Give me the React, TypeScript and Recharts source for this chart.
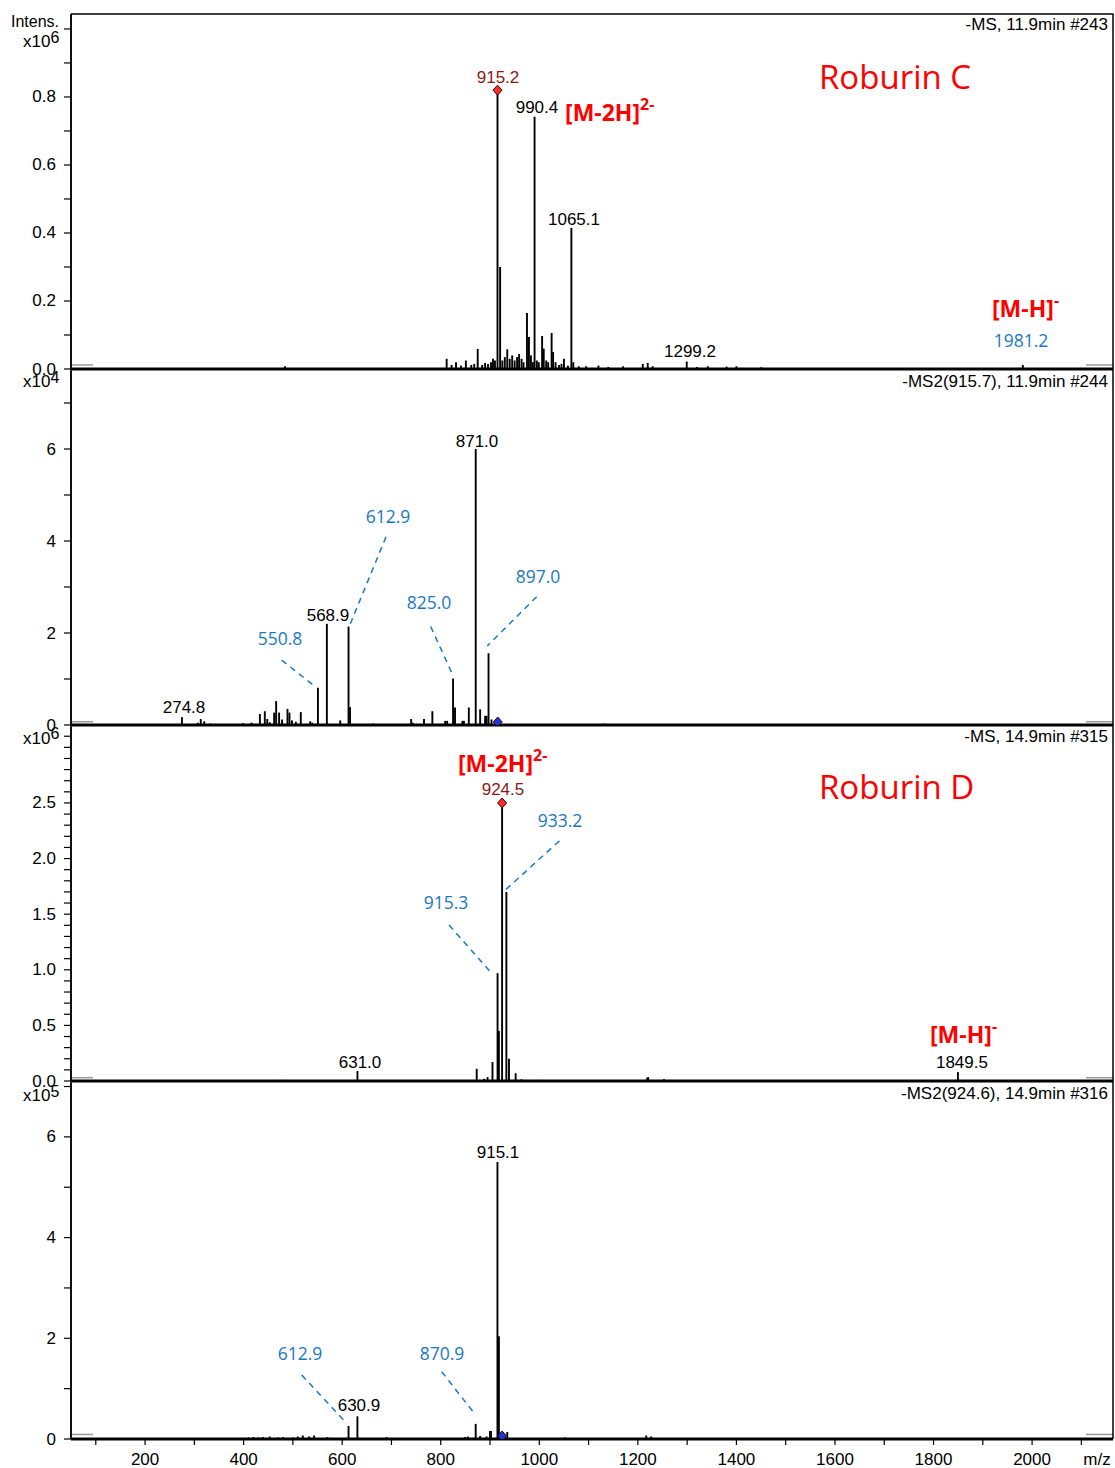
import React from 'react';
import { ComposedChart, XAxis, YAxis, Scatter, ReferenceLine, ReferenceDot } from 'recharts';

// ---------- shared axis ----------
const X_MIN = 49.7;
const X_MAX = 2164.2;
const xTicks = [100, 200, 300, 400, 500, 600, 700, 800, 900, 1000, 1100, 1200, 1300, 1400, 1500, 1600, 1700, 1800, 1900, 2000, 2100];
const xTickLabels = [200, 400, 600, 800, 1000, 1200, 1400, 1600, 1800, 2000];

// ---------- panel 1: -MS, 11.9min #243 (x10^6) ----------
const ms1CPeaks: [number, number][] = [
  [484, 0.008], [812, 0.03], [822, 0.012], [831, 0.02], [841, 0.01], [851, 0.025], [862, 0.012], [868, 0.015],
  [875, 0.059], [884, 0.012], [890, 0.018], [896, 0.015], [902, 0.02], [906, 0.03], [910, 0.025], [915.2, 0.82],
  [920.5, 0.3], [925, 0.025], [930, 0.035], [935, 0.058], [940, 0.03], [945, 0.04], [950, 0.025], [955, 0.035],
  [959, 0.044], [964, 0.03], [968, 0.02], [975, 0.165], [979, 0.094], [983, 0.04], [987, 0.02], [990.4, 0.742],
  [995, 0.025], [999, 0.02], [1005.7, 0.097], [1009, 0.06], [1014, 0.025], [1018, 0.02], [1025, 0.106], [1028, 0.05],
  [1033, 0.02], [1040, 0.012], [1045, 0.015], [1050, 0.03], [1058, 0.01], [1065.1, 0.415], [1069, 0.02], [1080, 0.008],
  [1095, 0.008], [1120, 0.01], [1140, 0.006], [1170, 0.008], [1210, 0.015], [1220, 0.018], [1230, 0.008], [1299.2, 0.022],
  [1320, 0.006], [1342, 0.008], [1380, 0.007], [1400, 0.008], [1450, 0.005], [1981.2, 0.012],
];
const ms1CPrecursor: [number, number][] = [[915.2, 0.82]];
const ms1CTicks = [0, 0.1, 0.2, 0.3, 0.4, 0.5, 0.6, 0.7, 0.8, 0.9, 1.0];
const ms1CLabels = [0, 0.2, 0.4, 0.6, 0.8];

// ---------- panel 2: -MS2(915.7), 11.9min #244 (x10^4) ----------
const ms2CPeaks: [number, number][] = [
  [274.8, 0.17], [307, 0.05], [313, 0.13], [320, 0.08], [332, 0.03], [362, 0.02], [399, 0.04], [416, 0.05],
  [433, 0.24], [443, 0.3], [448, 0.13], [453, 0.06], [462, 0.27], [466, 0.52], [472, 0.27], [478, 0.12],
  [489, 0.35], [493, 0.27], [498, 0.1], [506, 0.07], [516, 0.28], [535, 0.08], [539, 0.05], [550.8, 0.81],
  [568.9, 2.2], [596, 0.1], [612.9, 2.14], [616, 0.39], [663, 0.03], [740, 0.13], [743, 0.05], [766, 0.13],
  [783, 0.3], [809, 0.09], [813, 0.09], [825.0, 1.01], [829, 0.38], [844, 0.09], [847, 0.09], [857, 0.38],
  [871.0, 6.0], [880, 0.34], [890, 0.2], [893, 0.2], [897.0, 1.56], [903, 0.12], [1130, 0.03],
];
const ms2CPrecursor: [number, number][] = [[915.7, 0]];
const ms2CTicks = [0, 1, 2, 3, 4, 5, 6, 7];
const ms2CLabels = [0, 2, 4, 6];

// ---------- panel 3: -MS, 14.9min #315 (x10^6) ----------
const ms1DPeaks: [number, number][] = [
  [475, 0.01], [520, 0.008], [631.0, 0.09], [700, 0.008], [780, 0.008], [873, 0.11], [888, 0.02], [895, 0.035],
  [905, 0.17], [915.3, 0.97], [918, 0.45], [924.5, 2.5], [933.2, 1.7], [938.5, 0.2], [952, 0.07], [964, 0.015],
  [976, 0.01], [1003, 0.01], [1219, 0.03], [1221, 0.035], [1253, 0.015], [1849.5, 0.08],
];
const ms1DPrecursor: [number, number][] = [[924.5, 2.5]];
const ms1DTicks = [0, 0.1, 0.2, 0.3, 0.4, 0.5, 0.6, 0.7, 0.8, 0.9, 1.0, 1.1, 1.2, 1.3, 1.4, 1.5, 1.6, 1.7, 1.8, 1.9, 2.0, 2.1, 2.2, 2.3, 2.4, 2.5, 2.6, 2.7, 2.8, 2.9, 3.0, 3.1];
const ms1DLabels = [0, 0.5, 1.0, 1.5, 2.0, 2.5];

// ---------- panel 4: -MS2(924.6), 14.9min #316 (x10^5) ----------
const ms2DPeaks: [number, number][] = [
  [410, 0.03], [420, 0.04], [430, 0.03], [439, 0.04], [453, 0.05], [470, 0.03], [480, 0.04], [500, 0.03],
  [510, 0.05], [520, 0.07], [533, 0.05], [543, 0.07], [570, 0.04], [612.9, 0.26], [630.9, 0.45], [690, 0.04],
  [731, 0.02], [849, 0.04], [855, 0.05], [870.9, 0.3], [880, 0.06], [893, 0.05], [900, 0.16], [902, 0.16],
  [915.1, 5.5], [918, 2.04], [935, 0.14], [969, 0.02], [1052, 0.03], [1086, 0.02], [1217, 0.07], [1227, 0.05],
];
const ms2DPrecursor: [number, number][] = [[924.6, 0]];
const ms2DTicks = [0, 1, 2, 3, 4, 5, 6, 7];
const ms2DLabels = [0, 2, 4, 6];

// ---------- annotations (data coordinates) ----------
type Ann = { t: string; sup?: string; mz: number; v: number; s: string };
const ann1: Ann[] = [
  { t: '-MS, 11.9min #243', mz: 2154, v: 1.012, s: 'hdr' },
  { t: '915.2', mz: 916.2, v: 0.856, s: 'prec' },
  { t: '990.4', mz: 995.3, v: 0.768, s: 'num' },
  { t: '[M-2H]', sup: '2-', mz: 1052.2, v: 0.755, s: 'ion' },
  { t: '1065.1', mz: 1070.4, v: 0.441, s: 'num' },
  { t: '1299.2', mz: 1305.8, v: 0.05, s: 'num' },
  { t: '[M-H]', sup: '-', mz: 1918.6, v: 0.178, s: 'ion' },
  { t: '1981.2', mz: 1977.5, v: 0.084, s: 'blue' },
  { t: 'Roburin C', mz: 1567.6, v: 0.859, s: 'title' },
];
const ann2: Ann[] = [
  { t: '-MS2(915.7), 11.9min #244', mz: 2154, v: 7.478, s: 'hdr' },
  { t: '871.0', mz: 873.6, v: 6.17, s: 'num' },
  { t: '612.9', mz: 692.9, v: 4.54, s: 'blue' },
  { t: '897.0', mz: 997.4, v: 3.24, s: 'blue' },
  { t: '825.0', mz: 776.2, v: 2.67, s: 'blue' },
  { t: '568.9', mz: 571.2, v: 2.39, s: 'num' },
  { t: '550.8', mz: 473.8, v: 1.89, s: 'blue' },
  { t: '274.8', mz: 279, v: 0.37, s: 'num' },
];
const ann3: Ann[] = [
  { t: '-MS, 14.9min #315', mz: 2154, v: 3.094, s: 'hdr' },
  { t: '[M-2H]', sup: '2-', mz: 835, v: 2.86, s: 'ion' },
  { t: '924.5', mz: 926.3, v: 2.617, s: 'prec' },
  { t: '933.2', mz: 1042, v: 2.345, s: 'blue' },
  { t: '915.3', mz: 810.7, v: 1.608, s: 'blue' },
  { t: 'Roburin D', mz: 1567.6, v: 2.644, s: 'title' },
  { t: '631.0', mz: 636.2, v: 0.162, s: 'num' },
  { t: '[M-H]', sup: '-', mz: 1792.8, v: 0.42, s: 'ion' },
  { t: '1849.5', mz: 1857.7, v: 0.162, s: 'num' },
];
const ann4: Ann[] = [
  { t: '-MS2(924.6), 14.9min #316', mz: 2154, v: 6.87, s: 'hdr' },
  { t: '915.1', mz: 916.2, v: 5.68, s: 'num' },
  { t: '612.9', mz: 514.4, v: 1.71, s: 'blue' },
  { t: '870.9', mz: 802.6, v: 1.71, s: 'blue' },
  { t: '630.9', mz: 634.1, v: 0.675, s: 'num' },
];

type Seg = [[number, number], [number, number]];
const lead2: Seg[] = [
  [[688.9, 4.09], [613.8, 2.13]],
  [[994.7, 2.79], [894.5, 1.72]],
  [[779.6, 2.14], [824.3, 1.09]],
  [[477.3, 1.41], [543.4, 0.85]],
];
const lead3: Seg[] = [
  [[1040.6, 2.158], [929, 1.709]],
  [[816.8, 1.403], [903.4, 0.969]],
];
const lead4: Seg[] = [
  [[517.9, 1.27], [609.2, 0.31]],
  [[801.9, 1.337], [867.5, 0.517]],
];

// ---------- styles ----------
const ARIAL = '"Liberation Sans", Arial, sans-serif';
const CAL = '"Open Sans", sans-serif';
const BLUE = '#1a78c4';
const RED = '#ff0000';
const DARKRED = '#8b1a1a';

const styles: Record<string, any> = {
  hdr: { fontFamily: ARIAL, fontSize: 17, fill: '#000', anchor: 'end' },
  num: { fontFamily: ARIAL, fontSize: 17, fill: '#000', anchor: 'middle' },
  prec: { fontFamily: ARIAL, fontSize: 17, fill: DARKRED, anchor: 'middle' },
  blue: { fontFamily: CAL, fontSize: 17.5, fill: BLUE, anchor: 'middle' },
  ion: { fontFamily: CAL, fontSize: 23, fill: RED, anchor: 'start', fontWeight: 700 },
  title: { fontFamily: CAL, fontSize: 33, fill: RED, anchor: 'start' },
};

type PanelCfg = {
  top: number; base: number; max: number;
  peaks: [number, number][]; prec: [number, number][]; precColor: string; precBase: boolean;
  ticks: number[]; labels: number[]; fmt: (v: number) => string;
  anns: Ann[]; leads: Seg[]; markV: number;
};

const panels: PanelCfg[] = [
  { top: 14, base: 369, max: 1.044, peaks: ms1CPeaks, prec: ms1CPrecursor, precColor: '#ff2a2a', precBase: false, ticks: ms1CTicks, labels: ms1CLabels, fmt: (v) => v.toFixed(1), anns: ann1, leads: [], markV: 0.012 },
  { top: 371, base: 725, max: 7.696, peaks: ms2CPeaks, prec: ms2CPrecursor, precColor: '#1836e6', precBase: true, ticks: ms2CTicks, labels: ms2CLabels, fmt: (v) => String(v), anns: ann2, leads: lead2, markV: 0.07 },
  { top: 727, base: 1081, max: 3.183, peaks: ms1DPeaks, prec: ms1DPrecursor, precColor: '#ff2a2a', precBase: false, ticks: ms1DTicks, labels: ms1DLabels, fmt: (v) => v.toFixed(1), anns: ann3, leads: lead3, markV: 0.03 },
  { top: 1083, base: 1439, max: 7.07, peaks: ms2DPeaks, prec: ms2DPrecursor, precColor: '#1836e6', precBase: true, ticks: ms2DTicks, labels: ms2DLabels, fmt: (v) => String(v), anns: ann4, leads: lead4, markV: 0.09 },
];

const W = 1115;
const MT = 10;

function Panel({ cfg, last }: { cfg: PanelCfg; last: boolean }) {
  const plotH = cfg.base - cfg.top;
  const height = MT + plotH + 32;
  const baseY = MT + plotH;
  const data = cfg.peaks.map(([mz, v]) => ({ mz, v }));
  const precData = cfg.prec.map(([mz, v]) => ({ mz, v }));

  const yTick = (props: any) => {
    const val = props.payload.value;
    const lab = cfg.labels.find((l) => Math.abs(l - val) < 1e-6);
    if (lab === undefined) return <g />;
    return (
      <text x={props.x} y={props.y} textAnchor="end" dominantBaseline="central" fontSize={17} fontFamily={ARIAL} fill="#000">
        {cfg.fmt(lab)}
      </text>
    );
  };
  const xTick = (props: any) => {
    const val = props.payload.value;
    if (!xTickLabels.includes(val)) return <g />;
    return (
      <text x={props.x} y={props.y} textAnchor="middle" dominantBaseline="central" fontSize={17} fontFamily={ARIAL} fill="#000">
        {val}
      </text>
    );
  };

  return (
    <div style={{ position: 'absolute', left: 0, top: cfg.top - MT }}>
      <ComposedChart width={W} height={height} margin={{ top: MT, right: 2, bottom: last ? 2 : 32, left: 11 }}>
        <XAxis
          type="number" dataKey="mz" domain={[X_MIN, X_MAX]} ticks={xTicks} interval={0} allowDataOverflow
          hide={!last} height={30} tickSize={6} tickMargin={14} tick={xTick}
          axisLine={{ stroke: '#000', strokeWidth: 1.5 }} tickLine={{ stroke: '#000', strokeWidth: 1.2 }}
        />
        <YAxis
          type="number" domain={[0, cfg.max]} ticks={cfg.ticks} interval={0} allowDataOverflow width={60}
          tickSize={7} tickMargin={8} tick={yTick}
          axisLine={{ stroke: '#000', strokeWidth: 1.5 }} tickLine={{ stroke: '#000', strokeWidth: 1.2 }}
        />
        <ReferenceLine segment={[{ x: 51.7, y: cfg.markV }, { x: 94.4, y: cfg.markV }]} stroke="#999" strokeWidth={1.5} ifOverflow="visible" />
        <ReferenceLine segment={[{ x: 2109.4, y: cfg.markV }, { x: 2164, y: cfg.markV }]} stroke="#999" strokeWidth={1.5} ifOverflow="visible" />
        <Scatter
          data={data} dataKey="v" isAnimationActive={false}
          shape={(p: any) => <line x1={p.cx} x2={p.cx} y1={p.cy} y2={baseY} stroke="#000" strokeWidth={1.9} />}
        />
        <ReferenceLine y={0} stroke="#000" strokeWidth={3} ifOverflow="visible" />
        {cfg.leads.map((s, i) => (
          <ReferenceLine
            key={'l' + i}
            segment={[{ x: s[0][0], y: s[0][1] }, { x: s[1][0], y: s[1][1] }]}
            stroke={BLUE} strokeWidth={1.5} strokeDasharray="6 5" ifOverflow="visible"
          />
        ))}
        <Scatter
          data={precData} dataKey="v" isAnimationActive={false}
          shape={(p: any) => {
            const cy = cfg.precBase ? p.cy - 3 : p.cy;
            return (
              <polygon
                points={`${p.cx},${cy - 5} ${p.cx + 4.5},${cy} ${p.cx},${cy + 5} ${p.cx - 4.5},${cy}`}
                fill={cfg.precColor} stroke="#3a0000" strokeWidth={1}
              />
            );
          }}
        />
        {cfg.anns.map((a, i) => {
          const st = styles[a.s];
          return (
            <ReferenceDot
              key={'a' + i} x={a.mz} y={a.v} r={0} ifOverflow="visible"
              shape={(p: any) => (
                <text
                  x={p.cx} y={p.cy} textAnchor={st.anchor} dominantBaseline="central"
                  fontFamily={st.fontFamily} fontSize={st.fontSize} fill={st.fill} fontWeight={st.fontWeight || 400}
                >
                  {a.t}
                  {a.sup ? <tspan dy={-8} fontSize={16}>{a.sup}</tspan> : null}
                </text>
              )}
            />
          );
        })}
      </ComposedChart>
    </div>
  );
}

const multipliers = [
  { y: 41.7, exp: '6' },
  { y: 381.5, exp: '4' },
  { y: 738, exp: '6' },
  { y: 1095.5, exp: '5' },
];

export default function App() {
  return (
    <div style={{ position: 'absolute', left: 0, top: 0, width: W, height: 1468, background: '#fff' }}>
      {panels.map((p, i) => (
        <Panel key={i} cfg={p} last={i === panels.length - 1} />
      ))}
      <svg width={W} height={1468} style={{ position: 'absolute', left: 0, top: 0, pointerEvents: 'none' }}>
        <line x1={71} y1={14} x2={1113.5} y2={14} stroke="#000" strokeWidth={1.5} />
        <line x1={1113} y1={14} x2={1113} y2={1439} stroke="#000" strokeWidth={1.5} />
        <line x1={71} y1={14} x2={71} y2={1439} stroke="#000" strokeWidth={1.5} />
        <text x={59} y={21} textAnchor="end" dominantBaseline="central" fontFamily={ARIAL} fontSize={16}>Intens.</text>
        {multipliers.map((m, i) => (
          <text key={i} x={23} y={m.y} dominantBaseline="central" fontFamily={ARIAL} fontSize={17}>
            x10<tspan dy={-5} fontSize={16}>{m.exp}</tspan>
          </text>
        ))}
        <text x={1097} y={1459} textAnchor="middle" dominantBaseline="central" fontFamily={ARIAL} fontSize={17}>m/z</text>
      </svg>
    </div>
  );
}
